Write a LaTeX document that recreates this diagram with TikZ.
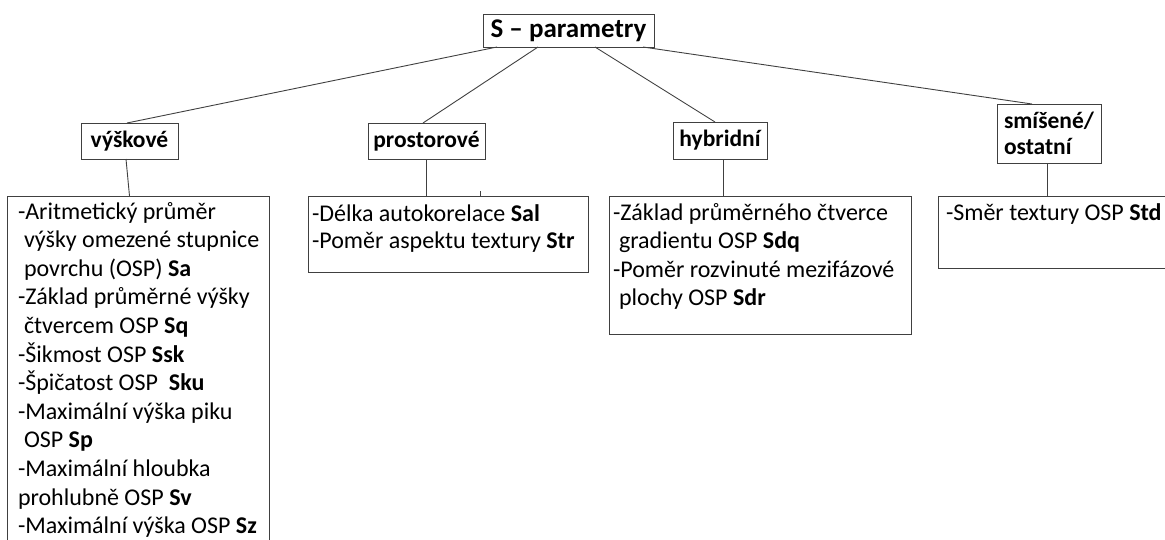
\documentclass[tikz,border=0pt]{standalone}
\usepackage{fontspec}
\setmainfont{Carlito}
\begin{document}
\begin{tikzpicture}[x=1pt,y=-1pt,
  every node/.style={inner sep=0pt, outer sep=0pt},
  frame/.style={draw=black!75, line width=1pt, fill=white},
  cat/.style={frame, font=\fontsize{23.5}{28}\selectfont\bfseries},
  body/.style={anchor=north west, align=left, font=\fontsize{24}{28.6}\selectfont},
  link/.style={draw=black!75, line width=0.9pt}]
\useasboundingbox (0,0) rectangle (1165,539);
\clip (0,0) rectangle (1165,539);
% category and title boxes
\node[cat, minimum width=171pt, minimum height=33pt, font=\fontsize{27}{30}\selectfont\bfseries] (top) at (568.5,30.5) {S -- parametry};
\node[cat, minimum width=97pt, minimum height=36pt] (vys) at (129.5,141) {výškové};
\node[cat, minimum width=117pt, minimum height=36pt] (pro) at (426.5,141) {prostorové};
\node[cat, minimum width=94pt, minimum height=37pt] (hyb) at (720,140.5) {hybridní};
\node[cat, minimum width=104pt, minimum height=59pt, align=left, font=\fontsize{23.5}{26}\selectfont\bfseries] (smi) at (1049,133.5) {smíšené/\\ostatní};
% content boxes
\node[frame, minimum width=262pt, minimum height=380pt, anchor=north west] (b1) at (7,196) {};
\node[frame, minimum width=280pt, minimum height=76pt, anchor=north west] (b2) at (308,196) {};
\node[frame, minimum width=302pt, minimum height=138pt, anchor=north west] (b3) at (609,196) {};
\node[frame, minimum width=260pt, minimum height=72pt, anchor=north west] (b4) at (938,196) {};
% texts
\node[body] (t1) at ([xshift=11pt,yshift=-6pt]b1.north west) {%
-Aritmetický průměr\\
\hspace*{6pt}výšky omezené stupnice\\
\hspace*{6pt}povrchu (OSP) \textbf{Sa}\\
-Základ průměrné výšky\\
\hspace*{6pt}čtvercem OSP \textbf{Sq}\\
-Šikmost OSP \textbf{Ssk}\\
-Špičatost OSP \ \textbf{Sku}\\
-Maximální výška piku\\
\hspace*{6pt}OSP \textbf{Sp}\\
-Maximální hloubka\\
prohlubně OSP \textbf{Sv}\\
-Maximální výška OSP \textbf{Sz}};
\node[body, font=\fontsize{24}{26.5}\selectfont] (t2) at ([xshift=4pt,yshift=-9pt]b2.north west) {%
-Délka autokorelace \textbf{Sal}\\
-Poměr aspektu textury \textbf{Str}};
\node[body] (t3) at ([xshift=4pt,yshift=-7pt]b3.north west) {%
-Základ průměrného čtverce\\
\hspace*{6pt}gradientu OSP \textbf{Sdq}\\
-Poměr rozvinuté mezifázové\\
\hspace*{6pt}plochy OSP \textbf{Sdr}};
\node[body] (t4) at ([xshift=8pt,yshift=-8pt]b4.north west) {%
-Směr textury OSP \textbf{Std}};
% connectors
\draw[link] ([xshift=14pt]top.south west) -- ([xshift=46pt]vys.north west);
\draw[link] ([xshift=55pt]top.south west) -- ([xshift=55pt]pro.north west);
\draw[link] ([xshift=112pt]top.south west) -- ([xshift=42pt]hyb.north west);
\draw[link] ([xshift=160pt]top.south west) -- ([xshift=35pt]smi.north west);
\draw[link] ([xshift=-3.5pt]vys.south) -- (vys.south |- b1.north);
\draw[link] (pro.south) -- (pro.south |- b2.north);
\draw[link] ([xshift=3pt]hyb.south) -- ([xshift=3pt]hyb.south |- b3.north);
\draw[link] ([xshift=-2pt]smi.south) -- ([xshift=-2pt]smi.south |- b4.north);
\coordinate (stub) at ([xshift=172pt]b2.north west);
\draw[link] (stub) -- ([yshift=5pt]stub);
\end{tikzpicture}
\end{document}
